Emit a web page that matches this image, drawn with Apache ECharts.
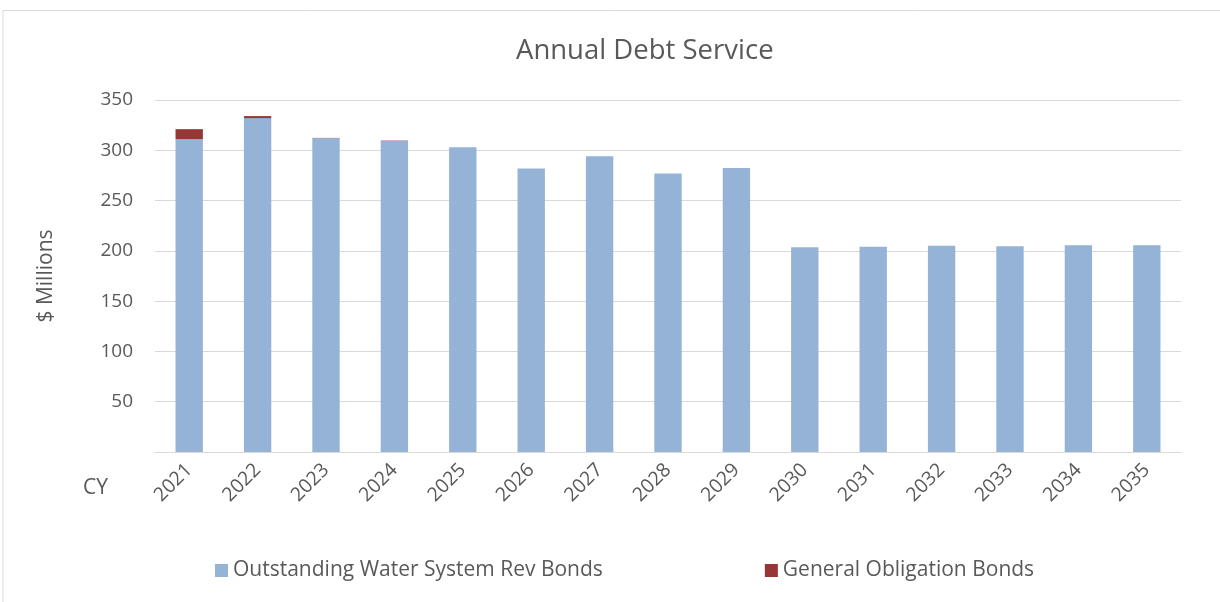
<!DOCTYPE html>
<html><head><meta charset="utf-8">
<script src="https://cdn.jsdelivr.net/npm/echarts@6/dist/echarts.min.js"></script>
<style>html,body{margin:0;padding:0;background:#fff}#c{width:1220px;height:602px}</style>
</head><body><div id="c"></div>
<script>
const categories = ['2021','2022','2023','2024','2025','2026','2027','2028','2029','2030','2031','2032','2033','2034','2035'];
const waterRevBonds = [311, 332, 312, 309.5, 303, 282, 294, 277, 282.5, 203.5, 204, 205, 204.5, 205.5, 205.5];
const generalObligation = [10, 2, 0.3, 0.3, 0, 0, 0, 0, 0, 0, 0, 0, 0, 0, 0];
const yTicks = [0, 50, 100, 150, 200, 250, 300, 350];
const FONT = '"Open Sans", "Noto Sans", sans-serif';
const chart = echarts.init(document.getElementById('c'));
chart.setOption({
  animation: false,
  textStyle: {fontFamily: FONT},
  title: {text: 'Annual Debt Service', left: 516, top: 37, padding: 0,
    textStyle: {fontFamily: FONT, fontSize: 27.5, fontWeight: 'normal', color: '#595959'}},
  graphic: [
    {type: 'polyline', shape: {points: [[3, 602], [3, 10.5], [1220, 10.5]]}, style: {stroke: '#d9d9d9', lineWidth: 1, fill: null}},
    {type: 'text', left: 83, top: 478, style: {text: 'CY', font: '21px ' + FONT, fill: '#595959'}}
  ],
  legend: {top: 555, left: 210, itemGap: 162, itemWidth: 13, itemHeight: 13, icon: 'rect',
    textStyle: {fontFamily: FONT, fontSize: 21, color: '#595959'},
    data: ['Outstanding Water System Rev Bonds', 'General Obligation Bonds']},
  grid: {left: 155, right: 39, top: 100, bottom: 150},
  xAxis: {type: 'category', data: categories,
    axisLine: {lineStyle: {color: '#d9d9d9', width: 1}}, axisTick: {show: false},
    axisLabel: {rotate: 45, fontSize: 19.5, color: '#595959', margin: 15, fontFamily: FONT}},
  yAxis: {type: 'value', min: 0, max: 350, interval: 50,
    name: '$ Millions', nameLocation: 'middle', nameGap: 98, nameRotate: 90,
    nameTextStyle: {fontSize: 21, color: '#595959', fontFamily: FONT},
    axisLine: {show: false}, axisTick: {show: false},
    splitLine: {lineStyle: {color: '#d9d9d9', width: 1}},
    axisLabel: {fontSize: 19, color: '#595959', margin: 22, fontFamily: FONT,
      formatter: v => (v === 0 ? '' : String(v))}},
  series: [
    {name: 'Outstanding Water System Rev Bonds', type: 'bar', stack: 'a', data: waterRevBonds,
      barWidth: '40%', itemStyle: {color: '#95b3d7'}},
    {name: 'General Obligation Bonds', type: 'bar', stack: 'a', data: generalObligation,
      barWidth: '40%', itemStyle: {color: '#953735'}}
  ]
});
</script></body></html>
